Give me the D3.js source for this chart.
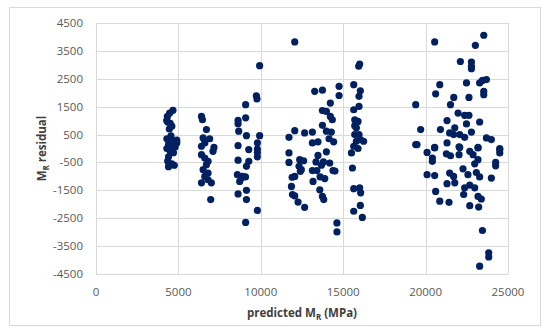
<!DOCTYPE html>
<html>
<head>
<meta charset="utf-8">
<script src="https://cdn.jsdelivr.net/npm/d3@7"></script>
<style>
  body { margin: 0; background: #fff; }
  text { font-family: "Open Sans", "Liberation Sans", sans-serif; }
</style>
</head>
<body>
<div id="chart"></div>
<script>
// [predicted MR, residual] pairs, grouped by the vertical bands in the plot
const band1 = [[4670,1370],[4470,1270],[4330,1150],[4290,1000],[4350,950],[4500,900],[4600,800],[4450,700],
  [4550,450],[4300,350],[4500,300],[4700,250],[4900,300],[4900,200],[4400,150],[4600,100],[4800,50],
  [4300,0],[4500,-100],[4700,-150],[4400,-300],[4350,-450],[4600,-550],[4400,-650],[4750,-600]];
const band2 = [[6400,1150],[6460,1030],[6700,680],[6500,380],[6900,350],[6600,200],[6400,80],[7160,40],
  [7100,-100],[6400,-220],[6600,-340],[6800,-460],[6700,-580],[6500,-760],[6800,-880],[6600,-1000],
  [6800,-1120],[6400,-1230],[7000,-1230],[6960,-1830]];
const band3 = [[9930,2970],[9730,1890],[9770,1780],[9080,1570],[8620,1010],[8620,890],[9080,1100],[8660,620],
  [9130,460],[9930,460],[8620,100],[9270,-40],[9790,200],[9790,-20],[9790,-140],[9790,-300],[8620,-420],
  [9270,-460],[9130,-640],[8580,-940],[8820,-1060],[9070,-1020],[8720,-1180],[8900,-1000],[9130,-1500],
  [8620,-1630],[9130,-1830],[9790,-2220],[9080,-2650]];
const band4 = [[12060,3820],[13270,2050],[13740,2090],[14750,2230],[14750,1900],[14220,1630],[13740,1360],
  [13980,1330],[14220,1150],[14340,1030],[13740,830],[13980,620],[14280,590],[14140,350],[14420,240],
  [12060,640],[11710,400],[12660,560],[13130,590],[13130,200],[13470,240],[13980,-120],[11710,-160],
  [11710,-500],[12360,-400],[12600,-440],[13470,-250],[13350,-480],[13800,-480],[14180,-520],[13680,-600],
  [12320,-640],[12460,-760],[12060,-1000],[11900,-1030],[12400,-820],[13130,-790],[13400,-790],[14380,-790],
  [14500,-810],[13600,-1020],[13880,-1080],[13170,-1180],[11860,-1360],[11920,-1650],[12060,-1700],
  [13580,-1480],[13740,-1720],[13820,-1830],[12260,-1920],[12660,-2110],[14620,-2670],[14620,-2990]];
const band5 = [[16000,3030],[15940,2950],[15640,2290],[16040,2070],[15960,1870],[15640,1390],[15960,1510],
  [15700,1030],[15900,970],[15700,820],[15800,740],[15960,500],[15700,500],[16040,320],[16240,260],
  [15800,260],[15640,80],[15900,0],[15500,-160],[15560,-700],[15640,-1440],[16000,-1410],[16060,-1590],
  [15640,-2250],[16040,-2040],[16160,-2470]];
const band6 = [[20550,3820],[23530,4060],[23020,3700],[22110,3120],[22780,3100],[22780,2950],[22780,2860],
  [20860,2290],[20610,1960],[22480,2350],[23280,2350],[23450,2440],[23690,2470],[23530,2050],[23530,1930],
  [21710,1830],[22630,1830],[19400,1570],[21510,1570],[21970,1270],[22370,1190],[22630,1190],[22480,880],
  [23280,950],[21300,1000],[21770,740],[21700,500],[21460,560],[22070,500],[22370,400],[22780,590],
  [23690,380],[23990,320],[19700,680],[20900,680],[19400,140],[20550,40],[21300,200],[22070,40],[23180,40],
  [24500,-5],[19480,140],[20090,-140],[20550,20],[20410,-340],[20410,-460],[21260,-190],[21510,-260],
  [22030,60],[22030,-220],[22680,-100],[22880,-220],[23180,20],[23180,-400],[22980,-550],[24500,-40],
  [24500,-160],[24250,-500],[24250,-620],[23990,-1060],[20090,-940],[20550,-970],[21460,-880],[21700,-1000],
  [22270,-730],[22570,-940],[23080,-860],[23280,-1020],[21300,-1260],[21770,-1230],[22370,-1410],
  [22680,-1310],[22980,-1410],[22310,-1650],[23180,-1720],[23380,-1810],[20610,-1540],[20860,-1890],
  [21420,-1930],[22680,-2050],[23220,-2100],[23450,-2940],[23830,-3740],[23830,-3890],[23280,-4220]];

const xTicks = [0, 5000, 10000, 15000, 20000, 25000];
const yTicks = [4500, 3500, 2500, 1500, 500, -500, -1500, -2500, -3500, -4500];

const width = 550, height = 335;
const margin = { left: 96, right: 42, top: 23, bottom: 61 };

const svg = d3.select("#chart").append("svg")
  .attr("width", width)
  .attr("height", height);

// outer chart frame
svg.append("rect")
  .attr("x", 9.5).attr("y", 7.5)
  .attr("width", 531).attr("height", 318)
  .attr("fill", "#fff")
  .attr("stroke", "#d9d9d9");

const x = d3.scaleLinear().domain([0, 25000]).range([margin.left, width - margin.right]);
const y = d3.scaleLinear().domain([-4500, 4500]).range([height - margin.bottom, margin.top]);

// gridlines
svg.append("g")
  .selectAll("line")
  .data(yTicks)
  .join("line")
  .attr("x1", x(0)).attr("x2", x(25000))
  .attr("y1", d => Math.round(y(d)) + 0.5).attr("y2", d => Math.round(y(d)) + 0.5)
  .attr("stroke", "#d9d9d9");

svg.append("g")
  .selectAll("line")
  .data(xTicks)
  .join("line")
  .attr("x1", d => Math.round(x(d)) + 0.5).attr("x2", d => Math.round(x(d)) + 0.5)
  .attr("y1", y(4500)).attr("y2", y(-4500))
  .attr("stroke", "#d9d9d9");

// tick labels
svg.append("g")
  .selectAll("text")
  .data(yTicks)
  .join("text")
  .attr("x", 83)
  .attr("y", d => y(d))
  .attr("dy", "0.35em")
  .attr("text-anchor", "end")
  .attr("font-size", 11.5)
  .attr("fill", "#595959")
  .text(d => d);

svg.append("g")
  .selectAll("text")
  .data(xTicks)
  .join("text")
  .attr("x", d => x(d))
  .attr("y", y(-4500) + 18)
  .attr("dy", "0.35em")
  .attr("text-anchor", "middle")
  .attr("font-size", 11.5)
  .attr("fill", "#595959")
  .text(d => d);

// axis titles
const xTitle = svg.append("text")
  .attr("x", 302)
  .attr("y", 317)
  .attr("text-anchor", "middle")
  .attr("font-size", 11.5)
  .attr("font-weight", "bold")
  .attr("fill", "#404040");
xTitle.append("tspan").text("predicted M");
xTitle.append("tspan").attr("font-size", 8).attr("dy", 3).text("R");
xTitle.append("tspan").attr("dy", -3).text(" (MPa)");

const yTitle = svg.append("text")
  .attr("transform", `translate(46,${(y(4500) + y(-4500)) / 2}) rotate(-90)`)
  .attr("text-anchor", "middle")
  .attr("font-size", 11.5)
  .attr("font-weight", "bold")
  .attr("fill", "#404040");
yTitle.append("tspan").text("M");
yTitle.append("tspan").attr("font-size", 8).attr("dy", 3).text("R");
yTitle.append("tspan").attr("dy", -3).text(" residual");

// points
const points = [].concat(band1, band2, band3, band4, band5, band6);
svg.append("g")
  .selectAll("circle")
  .data(points)
  .join("circle")
  .attr("cx", d => x(d[0]))
  .attr("cy", d => y(d[1]))
  .attr("r", 3.6)
  .attr("fill", "#002060");
</script>
</body>
</html>
